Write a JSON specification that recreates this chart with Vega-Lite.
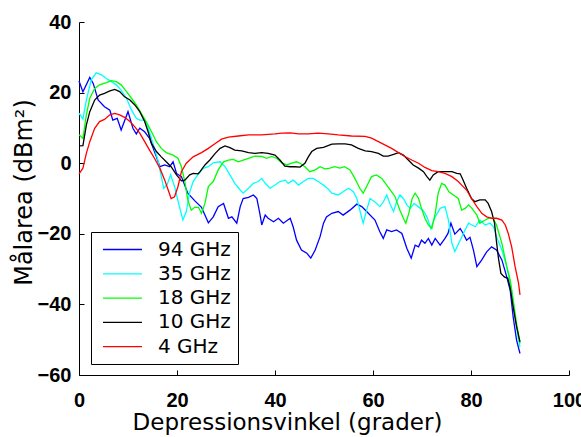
{
  "$schema": "https://vega.github.io/schema/vega-lite/v6.json",
  "width": 490,
  "height": 353,
  "autosize": "none",
  "padding": {"left": 79, "top": 22, "right": 12, "bottom": 62},
  "background": "white",
  "config": {
    "view": {"stroke": null},
    "axis": {"grid": false, "domainColor": "black", "tickColor": "black", "labelColor": "black", "titleColor": "black", "labelFont": "Liberation Sans", "labelFontWeight": "bold", "labelFontSize": 20, "titleFont": "DejaVu Sans", "titleFontWeight": "normal", "tickSize": -5, "domainWidth": 1, "tickWidth": 1, "labelFlush": false, "labelOverlap": false}
  },
  "data": {"values": [
{"s":"94 GHz","x":0,"y":23.3},{"s":"94 GHz","x":0.8,"y":20.2},{"s":"94 GHz","x":2.2,"y":24.3},{"s":"94 GHz","x":2.9,"y":22.6},{"s":"94 GHz","x":3.9,"y":17.9},{"s":"94 GHz","x":5.2,"y":16},{"s":"94 GHz","x":6.3,"y":15},{"s":"94 GHz","x":6.9,"y":12.2},{"s":"94 GHz","x":7.8,"y":12.7},{"s":"94 GHz","x":8.6,"y":9.4},{"s":"94 GHz","x":10,"y":14.6},{"s":"94 GHz","x":11,"y":9.9},{"s":"94 GHz","x":11.7,"y":8.3},{"s":"94 GHz","x":12.4,"y":9.9},{"s":"94 GHz","x":13.4,"y":8.9},{"s":"94 GHz","x":14.4,"y":7},{"s":"94 GHz","x":15.8,"y":1.8},{"s":"94 GHz","x":16.5,"y":-1},{"s":"94 GHz","x":17.5,"y":-0.5},{"s":"94 GHz","x":18.5,"y":-1},{"s":"94 GHz","x":19.2,"y":0.4},{"s":"94 GHz","x":19.9,"y":-2.9},{"s":"94 GHz","x":20.9,"y":-3.8},{"s":"94 GHz","x":22.2,"y":-8.5},{"s":"94 GHz","x":23.6,"y":-10.6},{"s":"94 GHz","x":25,"y":-12.5},{"s":"94 GHz","x":26.4,"y":-16.9},{"s":"94 GHz","x":27.4,"y":-15.2},{"s":"94 GHz","x":28.4,"y":-12.3},{"s":"94 GHz","x":29.5,"y":-11.4},{"s":"94 GHz","x":30.5,"y":-15.6},{"s":"94 GHz","x":31.2,"y":-15.2},{"s":"94 GHz","x":32.2,"y":-17},{"s":"94 GHz","x":32.9,"y":-12.3},{"s":"94 GHz","x":33.5,"y":-10},{"s":"94 GHz","x":34.6,"y":-9.7},{"s":"94 GHz","x":35.6,"y":-9},{"s":"94 GHz","x":36.3,"y":-10},{"s":"94 GHz","x":36.9,"y":-14.2},{"s":"94 GHz","x":37.3,"y":-17.5},{"s":"94 GHz","x":38,"y":-14.7},{"s":"94 GHz","x":38.6,"y":-15.6},{"s":"94 GHz","x":39.7,"y":-16.6},{"s":"94 GHz","x":40.7,"y":-15.6},{"s":"94 GHz","x":41.7,"y":-17},{"s":"94 GHz","x":43.1,"y":-15.6},{"s":"94 GHz","x":43.7,"y":-18},{"s":"94 GHz","x":44.4,"y":-21.8},{"s":"94 GHz","x":45.4,"y":-24.6},{"s":"94 GHz","x":46.5,"y":-25.5},{"s":"94 GHz","x":47.3,"y":-26.9},{"s":"94 GHz","x":48.2,"y":-24.6},{"s":"94 GHz","x":49.2,"y":-20.8},{"s":"94 GHz","x":49.9,"y":-17},{"s":"94 GHz","x":50.5,"y":-15.2},{"s":"94 GHz","x":51.6,"y":-14.2},{"s":"94 GHz","x":52.9,"y":-13.7},{"s":"94 GHz","x":53.9,"y":-14.7},{"s":"94 GHz","x":55.3,"y":-13.3},{"s":"94 GHz","x":56.7,"y":-11.6},{"s":"94 GHz","x":57.7,"y":-12.3},{"s":"94 GHz","x":58.7,"y":-13.7},{"s":"94 GHz","x":60.4,"y":-16.1},{"s":"94 GHz","x":61.4,"y":-19.4},{"s":"94 GHz","x":62.1,"y":-21.3},{"s":"94 GHz","x":62.8,"y":-18.9},{"s":"94 GHz","x":63.8,"y":-19.4},{"s":"94 GHz","x":64.8,"y":-18.9},{"s":"94 GHz","x":65.9,"y":-19.9},{"s":"94 GHz","x":66.9,"y":-24.1},{"s":"94 GHz","x":67.8,"y":-26.9},{"s":"94 GHz","x":68.6,"y":-23.2},{"s":"94 GHz","x":69.3,"y":-23.7},{"s":"94 GHz","x":69.9,"y":-21.8},{"s":"94 GHz","x":70.6,"y":-22.7},{"s":"94 GHz","x":71.3,"y":-21.3},{"s":"94 GHz","x":72,"y":-23.2},{"s":"94 GHz","x":72.7,"y":-21.3},{"s":"94 GHz","x":73.7,"y":-23.2},{"s":"94 GHz","x":74.7,"y":-21.3},{"s":"94 GHz","x":75.3,"y":-19.9},{"s":"94 GHz","x":75.9,"y":-17},{"s":"94 GHz","x":76.7,"y":-20.1},{"s":"94 GHz","x":77.8,"y":-18.5},{"s":"94 GHz","x":78.4,"y":-19.9},{"s":"94 GHz","x":79.1,"y":-21.8},{"s":"94 GHz","x":79.8,"y":-21},{"s":"94 GHz","x":80.5,"y":-24.6},{"s":"94 GHz","x":81.2,"y":-29.3},{"s":"94 GHz","x":82.2,"y":-27.4},{"s":"94 GHz","x":83.2,"y":-25.1},{"s":"94 GHz","x":84.2,"y":-23.7},{"s":"94 GHz","x":85.2,"y":-24.6},{"s":"94 GHz","x":86.3,"y":-27.4},{"s":"94 GHz","x":87.3,"y":-32.2},{"s":"94 GHz","x":88,"y":-36},{"s":"94 GHz","x":88.6,"y":-43.5},{"s":"94 GHz","x":89.3,"y":-50.1},{"s":"94 GHz","x":90,"y":-53.9},
{"s":"35 GHz","x":0,"y":14.2},{"s":"35 GHz","x":0.8,"y":12.5},{"s":"35 GHz","x":1.5,"y":17.9},{"s":"35 GHz","x":2.5,"y":23.6},{"s":"35 GHz","x":3.5,"y":25.6},{"s":"35 GHz","x":4.6,"y":25},{"s":"35 GHz","x":5.6,"y":24},{"s":"35 GHz","x":6.6,"y":23.1},{"s":"35 GHz","x":7.6,"y":22.2},{"s":"35 GHz","x":8.6,"y":20.7},{"s":"35 GHz","x":9.7,"y":18.4},{"s":"35 GHz","x":10.7,"y":15.1},{"s":"35 GHz","x":11.7,"y":12.7},{"s":"35 GHz","x":12.4,"y":12.2},{"s":"35 GHz","x":13.4,"y":12.2},{"s":"35 GHz","x":14,"y":10.4},{"s":"35 GHz","x":15.1,"y":5.6},{"s":"35 GHz","x":16.1,"y":0.9},{"s":"35 GHz","x":16.8,"y":-3.8},{"s":"35 GHz","x":17.3,"y":-7.1},{"s":"35 GHz","x":18,"y":-6},{"s":"35 GHz","x":18.7,"y":-3.3},{"s":"35 GHz","x":19.5,"y":-6.6},{"s":"35 GHz","x":20.5,"y":-12.3},{"s":"35 GHz","x":21.2,"y":-16.1},{"s":"35 GHz","x":21.9,"y":-13.7},{"s":"35 GHz","x":22.6,"y":-8.1},{"s":"35 GHz","x":23.3,"y":-5.2},{"s":"35 GHz","x":24.3,"y":-3.2},{"s":"35 GHz","x":25.3,"y":-1.5},{"s":"35 GHz","x":26.4,"y":-1},{"s":"35 GHz","x":27.4,"y":0.1},{"s":"35 GHz","x":28.8,"y":0.4},{"s":"35 GHz","x":29.8,"y":-1},{"s":"35 GHz","x":30.8,"y":-3.3},{"s":"35 GHz","x":31.8,"y":-5.7},{"s":"35 GHz","x":32.9,"y":-7.6},{"s":"35 GHz","x":33.5,"y":-8.5},{"s":"35 GHz","x":34.6,"y":-7.1},{"s":"35 GHz","x":35.6,"y":-5.7},{"s":"35 GHz","x":36.6,"y":-5.2},{"s":"35 GHz","x":37.3,"y":-4.3},{"s":"35 GHz","x":38,"y":-5.7},{"s":"35 GHz","x":39,"y":-7.1},{"s":"35 GHz","x":40,"y":-6.2},{"s":"35 GHz","x":41,"y":-5.2},{"s":"35 GHz","x":42.1,"y":-4.8},{"s":"35 GHz","x":42.7,"y":-5.7},{"s":"35 GHz","x":43.7,"y":-4.8},{"s":"35 GHz","x":44.8,"y":-6.2},{"s":"35 GHz","x":45.8,"y":-5.2},{"s":"35 GHz","x":46.8,"y":-4.3},{"s":"35 GHz","x":47.8,"y":-4.3},{"s":"35 GHz","x":48.8,"y":-5.2},{"s":"35 GHz","x":49.9,"y":-6.2},{"s":"35 GHz","x":50.9,"y":-7.4},{"s":"35 GHz","x":51.6,"y":-8.5},{"s":"35 GHz","x":52.9,"y":-9},{"s":"35 GHz","x":53.9,"y":-8.1},{"s":"35 GHz","x":55,"y":-7.1},{"s":"35 GHz","x":56,"y":-8.1},{"s":"35 GHz","x":56.7,"y":-10},{"s":"35 GHz","x":57.3,"y":-13.3},{"s":"35 GHz","x":58,"y":-17},{"s":"35 GHz","x":58.7,"y":-13.3},{"s":"35 GHz","x":59.4,"y":-10},{"s":"35 GHz","x":60.4,"y":-11},{"s":"35 GHz","x":61.4,"y":-12.3},{"s":"35 GHz","x":62.1,"y":-11},{"s":"35 GHz","x":62.8,"y":-9},{"s":"35 GHz","x":63.5,"y":-11.6},{"s":"35 GHz","x":64.2,"y":-13.7},{"s":"35 GHz","x":64.8,"y":-11},{"s":"35 GHz","x":65.5,"y":-9},{"s":"35 GHz","x":66.2,"y":-10},{"s":"35 GHz","x":66.9,"y":-11.8},{"s":"35 GHz","x":67.6,"y":-12.8},{"s":"35 GHz","x":68.4,"y":-11.4},{"s":"35 GHz","x":69.2,"y":-12.3},{"s":"35 GHz","x":70.2,"y":-13.3},{"s":"35 GHz","x":71,"y":-15.2},{"s":"35 GHz","x":71.8,"y":-18.5},{"s":"35 GHz","x":72.7,"y":-15.2},{"s":"35 GHz","x":73.7,"y":-12.8},{"s":"35 GHz","x":74.7,"y":-12.3},{"s":"35 GHz","x":75.4,"y":-16.1},{"s":"35 GHz","x":76.1,"y":-22.7},{"s":"35 GHz","x":76.7,"y":-25},{"s":"35 GHz","x":77.6,"y":-22.4},{"s":"35 GHz","x":78.8,"y":-18.9},{"s":"35 GHz","x":79.5,"y":-17},{"s":"35 GHz","x":80.2,"y":-17.5},{"s":"35 GHz","x":80.9,"y":-18},{"s":"35 GHz","x":81.8,"y":-16.1},{"s":"35 GHz","x":82.9,"y":-17.5},{"s":"35 GHz","x":83.9,"y":-17},{"s":"35 GHz","x":84.6,"y":-18},{"s":"35 GHz","x":85.2,"y":-20.8},{"s":"35 GHz","x":86.3,"y":-24.6},{"s":"35 GHz","x":87.3,"y":-29.3},{"s":"35 GHz","x":88.3,"y":-35.9},{"s":"35 GHz","x":89,"y":-43.5},{"s":"35 GHz","x":89.7,"y":-50.1},{"s":"35 GHz","x":90,"y":-52},
{"s":"18 GHz","x":0,"y":8.1},{"s":"18 GHz","x":0.8,"y":7},{"s":"18 GHz","x":1.5,"y":13.7},{"s":"18 GHz","x":2.2,"y":18.4},{"s":"18 GHz","x":3.2,"y":21.2},{"s":"18 GHz","x":4.2,"y":22.2},{"s":"18 GHz","x":5.6,"y":22.8},{"s":"18 GHz","x":6.6,"y":23.4},{"s":"18 GHz","x":7.6,"y":23.1},{"s":"18 GHz","x":8.6,"y":22.2},{"s":"18 GHz","x":9.7,"y":20.3},{"s":"18 GHz","x":10.7,"y":18.4},{"s":"18 GHz","x":11.7,"y":16.5},{"s":"18 GHz","x":12.7,"y":14.1},{"s":"18 GHz","x":13.7,"y":11.8},{"s":"18 GHz","x":14.8,"y":8.9},{"s":"18 GHz","x":15.8,"y":6.1},{"s":"18 GHz","x":16.8,"y":4.2},{"s":"18 GHz","x":17.8,"y":3},{"s":"18 GHz","x":19.2,"y":2.3},{"s":"18 GHz","x":20.2,"y":1.4},{"s":"18 GHz","x":20.9,"y":-1},{"s":"18 GHz","x":21.6,"y":-5.2},{"s":"18 GHz","x":22.2,"y":-10.4},{"s":"18 GHz","x":22.9,"y":-13.3},{"s":"18 GHz","x":23.6,"y":-12.5},{"s":"18 GHz","x":24.4,"y":-12.5},{"s":"18 GHz","x":25,"y":-14.2},{"s":"18 GHz","x":25.7,"y":-11.4},{"s":"18 GHz","x":26.4,"y":-6.6},{"s":"18 GHz","x":27.4,"y":-5.2},{"s":"18 GHz","x":28.4,"y":-1.9},{"s":"18 GHz","x":29.5,"y":0.4},{"s":"18 GHz","x":30.5,"y":0.9},{"s":"18 GHz","x":31.5,"y":1.1},{"s":"18 GHz","x":32.5,"y":0.4},{"s":"18 GHz","x":33.5,"y":0.9},{"s":"18 GHz","x":34.6,"y":1.4},{"s":"18 GHz","x":35.9,"y":2},{"s":"18 GHz","x":37.3,"y":1.9},{"s":"18 GHz","x":38.3,"y":1.4},{"s":"18 GHz","x":39.3,"y":1.9},{"s":"18 GHz","x":40.3,"y":1.4},{"s":"18 GHz","x":41.4,"y":0.1},{"s":"18 GHz","x":42.4,"y":-0.5},{"s":"18 GHz","x":43.4,"y":0},{"s":"18 GHz","x":44.4,"y":0.4},{"s":"18 GHz","x":45.1,"y":0},{"s":"18 GHz","x":46.1,"y":-1},{"s":"18 GHz","x":47.1,"y":-2.4},{"s":"18 GHz","x":48.2,"y":-1.9},{"s":"18 GHz","x":49.2,"y":-1},{"s":"18 GHz","x":50.2,"y":-1.6},{"s":"18 GHz","x":51.2,"y":-1.4},{"s":"18 GHz","x":52.2,"y":-1},{"s":"18 GHz","x":53.2,"y":-1.4},{"s":"18 GHz","x":54.2,"y":-1},{"s":"18 GHz","x":55.3,"y":-1.9},{"s":"18 GHz","x":56.3,"y":-4.3},{"s":"18 GHz","x":57.3,"y":-7.1},{"s":"18 GHz","x":58,"y":-8.5},{"s":"18 GHz","x":58.7,"y":-6.6},{"s":"18 GHz","x":59.7,"y":-3.8},{"s":"18 GHz","x":60.7,"y":-3.3},{"s":"18 GHz","x":61.8,"y":-4.3},{"s":"18 GHz","x":62.8,"y":-6.2},{"s":"18 GHz","x":63.8,"y":-8.1},{"s":"18 GHz","x":64.5,"y":-9.5},{"s":"18 GHz","x":65.5,"y":-13.3},{"s":"18 GHz","x":66.2,"y":-15.6},{"s":"18 GHz","x":66.7,"y":-17},{"s":"18 GHz","x":67.3,"y":-14.2},{"s":"18 GHz","x":68,"y":-10},{"s":"18 GHz","x":68.6,"y":-8.5},{"s":"18 GHz","x":69.3,"y":-10},{"s":"18 GHz","x":69.9,"y":-12.8},{"s":"18 GHz","x":70.6,"y":-15.6},{"s":"18 GHz","x":71.3,"y":-17.5},{"s":"18 GHz","x":72,"y":-18.5},{"s":"18 GHz","x":72.7,"y":-14.2},{"s":"18 GHz","x":73.3,"y":-8.5},{"s":"18 GHz","x":74,"y":-5.7},{"s":"18 GHz","x":74.7,"y":-6.2},{"s":"18 GHz","x":75.5,"y":-8.1},{"s":"18 GHz","x":76.4,"y":-9},{"s":"18 GHz","x":77.4,"y":-10},{"s":"18 GHz","x":78.1,"y":-13.3},{"s":"18 GHz","x":78.8,"y":-12.8},{"s":"18 GHz","x":79.5,"y":-11.8},{"s":"18 GHz","x":80.2,"y":-12.8},{"s":"18 GHz","x":81.2,"y":-14.7},{"s":"18 GHz","x":81.8,"y":-17},{"s":"18 GHz","x":82.9,"y":-16.1},{"s":"18 GHz","x":83.9,"y":-15.4},{"s":"18 GHz","x":84.6,"y":-15.8},{"s":"18 GHz","x":85.2,"y":-17.5},{"s":"18 GHz","x":86.3,"y":-22.7},{"s":"18 GHz","x":87.3,"y":-29.3},{"s":"18 GHz","x":88,"y":-33.1},{"s":"18 GHz","x":88.6,"y":-38.8},{"s":"18 GHz","x":89.3,"y":-45.4},{"s":"18 GHz","x":90,"y":-51.1},
{"s":"10 GHz","x":0,"y":4.9},{"s":"10 GHz","x":0.8,"y":5},{"s":"10 GHz","x":1.5,"y":10.8},{"s":"10 GHz","x":2.2,"y":14.6},{"s":"10 GHz","x":3.2,"y":17.9},{"s":"10 GHz","x":4.2,"y":19.3},{"s":"10 GHz","x":5.2,"y":19.8},{"s":"10 GHz","x":6.3,"y":20.5},{"s":"10 GHz","x":7.3,"y":20.9},{"s":"10 GHz","x":8.3,"y":20.3},{"s":"10 GHz","x":9.3,"y":18.8},{"s":"10 GHz","x":10.4,"y":17.9},{"s":"10 GHz","x":11.4,"y":16.5},{"s":"10 GHz","x":12.4,"y":14.6},{"s":"10 GHz","x":13.4,"y":11.8},{"s":"10 GHz","x":14.1,"y":8.9},{"s":"10 GHz","x":14.8,"y":5.6},{"s":"10 GHz","x":15.8,"y":3.3},{"s":"10 GHz","x":16.8,"y":1.8},{"s":"10 GHz","x":17.8,"y":0.4},{"s":"10 GHz","x":18.8,"y":-1},{"s":"10 GHz","x":19.9,"y":-3.3},{"s":"10 GHz","x":20.9,"y":-5},{"s":"10 GHz","x":21.6,"y":-4.8},{"s":"10 GHz","x":22.6,"y":-3.3},{"s":"10 GHz","x":23.3,"y":-2.9},{"s":"10 GHz","x":24.3,"y":-3},{"s":"10 GHz","x":24.7,"y":-2.4},{"s":"10 GHz","x":25.7,"y":-0.5},{"s":"10 GHz","x":26.7,"y":0.9},{"s":"10 GHz","x":27.8,"y":2.8},{"s":"10 GHz","x":28.8,"y":4.2},{"s":"10 GHz","x":29.8,"y":4.9},{"s":"10 GHz","x":30.8,"y":4.4},{"s":"10 GHz","x":31.8,"y":3.7},{"s":"10 GHz","x":33.2,"y":3.5},{"s":"10 GHz","x":34.6,"y":3},{"s":"10 GHz","x":35.9,"y":2.8},{"s":"10 GHz","x":37.3,"y":3},{"s":"10 GHz","x":38.6,"y":2.8},{"s":"10 GHz","x":40,"y":2.3},{"s":"10 GHz","x":41,"y":0.9},{"s":"10 GHz","x":42,"y":-0.8},{"s":"10 GHz","x":43.1,"y":-1},{"s":"10 GHz","x":44.1,"y":-1},{"s":"10 GHz","x":45.1,"y":-1.1},{"s":"10 GHz","x":46.1,"y":0},{"s":"10 GHz","x":46.8,"y":1.8},{"s":"10 GHz","x":47.5,"y":3.3},{"s":"10 GHz","x":48.5,"y":4.2},{"s":"10 GHz","x":49.9,"y":4.5},{"s":"10 GHz","x":51.6,"y":5.4},{"s":"10 GHz","x":52.9,"y":5.5},{"s":"10 GHz","x":54.3,"y":5.5},{"s":"10 GHz","x":55.6,"y":5.2},{"s":"10 GHz","x":57,"y":4.2},{"s":"10 GHz","x":58.4,"y":3.5},{"s":"10 GHz","x":59.7,"y":3.3},{"s":"10 GHz","x":61.1,"y":2.8},{"s":"10 GHz","x":62.1,"y":2},{"s":"10 GHz","x":63.1,"y":2},{"s":"10 GHz","x":64.2,"y":2.5},{"s":"10 GHz","x":65.2,"y":3},{"s":"10 GHz","x":66.2,"y":2.3},{"s":"10 GHz","x":67.2,"y":0.9},{"s":"10 GHz","x":68.2,"y":-0.5},{"s":"10 GHz","x":69.3,"y":-1.4},{"s":"10 GHz","x":70.3,"y":-2.4},{"s":"10 GHz","x":71,"y":-3.8},{"s":"10 GHz","x":71.6,"y":-4.8},{"s":"10 GHz","x":72.3,"y":-3.3},{"s":"10 GHz","x":73.3,"y":-2.4},{"s":"10 GHz","x":74.7,"y":-2.4},{"s":"10 GHz","x":76.1,"y":-2.4},{"s":"10 GHz","x":77.1,"y":-2.9},{"s":"10 GHz","x":77.8,"y":-3},{"s":"10 GHz","x":78.4,"y":-4.8},{"s":"10 GHz","x":79.1,"y":-7.1},{"s":"10 GHz","x":80.1,"y":-10},{"s":"10 GHz","x":80.8,"y":-10.9},{"s":"10 GHz","x":81.8,"y":-10.4},{"s":"10 GHz","x":82.9,"y":-10.4},{"s":"10 GHz","x":83.5,"y":-11.4},{"s":"10 GHz","x":84.2,"y":-13.7},{"s":"10 GHz","x":84.8,"y":-17},{"s":"10 GHz","x":85.2,"y":-22.2},{"s":"10 GHz","x":85.6,"y":-26.9},{"s":"10 GHz","x":86.1,"y":-31.2},{"s":"10 GHz","x":86.8,"y":-32.2},{"s":"10 GHz","x":87.5,"y":-32.6},{"s":"10 GHz","x":88,"y":-35.4},{"s":"10 GHz","x":88.6,"y":-40.7},{"s":"10 GHz","x":89.3,"y":-46.3},{"s":"10 GHz","x":90,"y":-50.6},
{"s":"4 GHz","x":0,"y":-3},{"s":"4 GHz","x":0.8,"y":-1.4},{"s":"4 GHz","x":1.5,"y":2.8},{"s":"4 GHz","x":2.2,"y":6.1},{"s":"4 GHz","x":3.2,"y":9.9},{"s":"4 GHz","x":4.2,"y":11.8},{"s":"4 GHz","x":5.2,"y":12.4},{"s":"4 GHz","x":6.3,"y":13.7},{"s":"4 GHz","x":7.3,"y":14.1},{"s":"4 GHz","x":8.3,"y":13.7},{"s":"4 GHz","x":9.3,"y":13},{"s":"4 GHz","x":10.4,"y":11.8},{"s":"4 GHz","x":11.4,"y":10.3},{"s":"4 GHz","x":12.4,"y":8.5},{"s":"4 GHz","x":13.4,"y":6.1},{"s":"4 GHz","x":14.4,"y":3.7},{"s":"4 GHz","x":15.4,"y":1.4},{"s":"4 GHz","x":16.5,"y":-1.4},{"s":"4 GHz","x":17.5,"y":-4.8},{"s":"4 GHz","x":18.2,"y":-7.6},{"s":"4 GHz","x":18.8,"y":-10},{"s":"4 GHz","x":19.5,"y":-9.5},{"s":"4 GHz","x":20.2,"y":-6.6},{"s":"4 GHz","x":20.9,"y":-2.4},{"s":"4 GHz","x":21.9,"y":0},{"s":"4 GHz","x":23.3,"y":1.8},{"s":"4 GHz","x":24.3,"y":2.5},{"s":"4 GHz","x":25,"y":3},{"s":"4 GHz","x":26.4,"y":4.2},{"s":"4 GHz","x":27.8,"y":5.6},{"s":"4 GHz","x":29.1,"y":6.8},{"s":"4 GHz","x":30.5,"y":7.4},{"s":"4 GHz","x":32.5,"y":7.7},{"s":"4 GHz","x":34.6,"y":8},{"s":"4 GHz","x":37.3,"y":8},{"s":"4 GHz","x":40,"y":8.3},{"s":"4 GHz","x":41.4,"y":8.5},{"s":"4 GHz","x":43.1,"y":8.6},{"s":"4 GHz","x":44.8,"y":8.3},{"s":"4 GHz","x":46.8,"y":8.3},{"s":"4 GHz","x":48.8,"y":8.5},{"s":"4 GHz","x":50.9,"y":8.3},{"s":"4 GHz","x":52.9,"y":8},{"s":"4 GHz","x":55.6,"y":7.7},{"s":"4 GHz","x":58.4,"y":7.6},{"s":"4 GHz","x":59.7,"y":7.1},{"s":"4 GHz","x":61.1,"y":6.1},{"s":"4 GHz","x":62.4,"y":5.2},{"s":"4 GHz","x":63.8,"y":4.2},{"s":"4 GHz","x":65.2,"y":3},{"s":"4 GHz","x":66.5,"y":1.9},{"s":"4 GHz","x":67.9,"y":0.9},{"s":"4 GHz","x":69.3,"y":0},{"s":"4 GHz","x":70.6,"y":-1.2},{"s":"4 GHz","x":72,"y":-2.1},{"s":"4 GHz","x":73.3,"y":-2.4},{"s":"4 GHz","x":74.7,"y":-2.9},{"s":"4 GHz","x":76.1,"y":-3.8},{"s":"4 GHz","x":77.4,"y":-5.2},{"s":"4 GHz","x":78.1,"y":-6.2},{"s":"4 GHz","x":79.1,"y":-7.6},{"s":"4 GHz","x":80.1,"y":-10},{"s":"4 GHz","x":81.2,"y":-12.3},{"s":"4 GHz","x":82.2,"y":-14.2},{"s":"4 GHz","x":83.2,"y":-15.2},{"s":"4 GHz","x":84.2,"y":-15.6},{"s":"4 GHz","x":85.2,"y":-15.6},{"s":"4 GHz","x":86.3,"y":-16.1},{"s":"4 GHz","x":87,"y":-17.5},{"s":"4 GHz","x":87.6,"y":-19.9},{"s":"4 GHz","x":88.3,"y":-23.7},{"s":"4 GHz","x":89,"y":-29.3},{"s":"4 GHz","x":89.7,"y":-34},{"s":"4 GHz","x":90,"y":-37.3}
  ]},
  "mark": {"type": "line", "strokeWidth": 1.3},
  "encoding": {
    "x": {"field": "x", "type": "quantitative", "scale": {"domain": [0, 100], "nice": false}, "axis": {"values": [0, 20, 40, 60, 80, 100], "title": "Depressionsvinkel (grader)", "titleFontSize": 23, "labelPadding": 20, "titlePadding": 1, "titleX": 208, "titleAlign": "center"}},
    "y": {"field": "y", "type": "quantitative", "scale": {"domain": [-60, 40], "nice": false}, "axis": {"values": [-60, -40, -20, 0, 20, 40], "title": "Målarea (dBm²)", "titleFontSize": 24, "labelPadding": 13, "titlePadding": 1, "titleY": 170, "titleAlign": "center"}},
    "color": {"field": "s", "type": "nominal", "sort": ["94 GHz", "35 GHz", "18 GHz", "10 GHz", "4 GHz"],
      "scale": {"domain": ["94 GHz", "35 GHz", "18 GHz", "10 GHz", "4 GHz"], "range": ["#0000FF", "#00FFFF", "#00FF00", "#000000", "#FF0000"]},
      "legend": {"orient": "none", "legendX": 12, "legendY": 210, "title": null, "fillColor": "white", "strokeColor": "black", "padding": 7, "symbolType": "M-2.31,0L1.69,0", "symbolSize": 380, "symbolStrokeWidth": 1.3, "symbolOffset": 17, "labelFont": "DejaVu Sans", "labelFontSize": 20, "labelColor": "black", "labelOffset": 22, "rowPadding": 3.3, "labelExpr": "(datum.label == '4 GHz' ? '\u00a04 GHz' : datum.label) + '\u00a0'"}}
  }
}
